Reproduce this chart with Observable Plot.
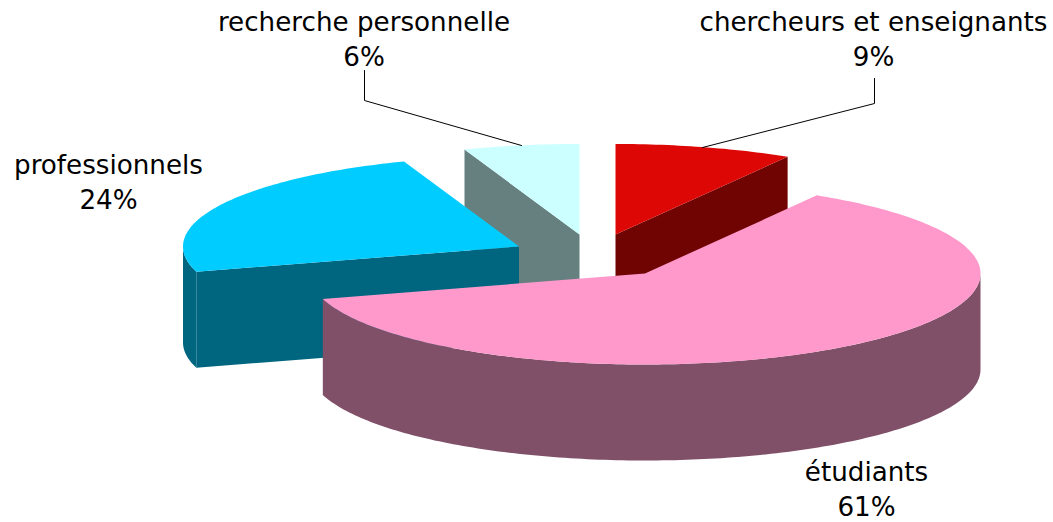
<!DOCTYPE html>
<html lang="fr">
<head>
<meta charset="utf-8">
<style>html,body{margin:0;padding:0;background:#fff}svg{display:block}</style>
<script src="https://cdn.jsdelivr.net/npm/d3@7"></script>
<script src="https://cdn.jsdelivr.net/npm/@observablehq/plot@0.6"></script>
</head>
<body>
<script>
// Data
const categories = ["chercheurs et enseignants", "étudiants", "professionnels", "recherche personnelle"];
const labelPercents = [9, 61, 24, 6];
// Shares as they appear on the tilted pie, in percent of the turn
const drawnShares = [8.56, 61.94, 23.94, 5.56];
const topColors = ["#DD0806", "#FF99CC", "#00CCFF", "#CCFFFF"];
const wallColors = ["#6F0403", "#805068", "#006680", "#668080"];
// Exploded slice centres
const centerX = [615, 644.5, 518.5, 579];
const centerY = [234, 273, 246, 234];
const radiusX = [336, 335.5, 336, 336];
const radiusY = [90.5, 91, 90.5, 90.5];
const depth = 96;
const drawOrder = [3, 0, 2, 1];
const labelX = [873, 866, 108, 363.5];
const labelY = [37, 486.5, 179.5, 37];
const leaders = [
  {id: "a", x: [874, 874, 702], y: [78, 103, 147]},
  {id: "b", x: [364, 364, 521], y: [70, 100, 145]}
];

// Build the faces from the shares
const starts = d3.cumsum([0, ...drawnShares]);
const faces = [];
drawOrder.forEach((i) => {
  const a0 = starts[i] * 3.6, a1 = starts[i + 1] * 3.6;
  const pt = (a, dz = 0) => [
    centerX[i] + radiusX[i] * Math.sin(a * Math.PI / 180),
    centerY[i] - radiusY[i] * Math.cos(a * Math.PI / 180) + dz
  ];
  const arc = (from, to, dz = 0) => {
    const n = Math.max(2, Math.ceil(Math.abs(to - from)));
    return d3.range(n + 1).map((k) => pt(from + (to - from) * k / n, dz));
  };
  const apex = [centerX[i], centerY[i]];
  const low = (p) => [p[0], p[1] + depth];
  const walls = [];
  // only the faces turned towards the viewer
  if (a0 > 180) walls.push([pt(a0), apex, low(apex), pt(a0, depth)]);
  if (a1 < 180) walls.push([pt(a1), apex, low(apex), pt(a1, depth)]);
  const f0 = Math.max(a0, 90), f1 = Math.min(a1, 270);
  if (f1 > f0) walls.push([...arc(f0, f1), ...arc(f1, f0, depth)]);
  walls.forEach((w) => faces.push({fill: wallColors[i], pts: w}));
  faces.push({fill: topColors[i], pts: [apex, ...arc(a0, a1)]});
});

const marks = faces.map((f) =>
  Plot.line(f.pts, {x: "0", y: "1", fill: f.fill, stroke: "none", curve: "linear-closed"})
);
leaders.forEach((l) =>
  marks.push(Plot.line(d3.range(l.x.length), {x: (k) => l.x[k], y: (k) => l.y[k], stroke: "#000", strokeWidth: 1}))
);
marks.push(Plot.text(categories.map((c, i) => `${c}\n${labelPercents[i]}%`), {
  x: (_, i) => labelX[i],
  y: (_, i) => labelY[i],
  text: (d) => d,
  fill: "#000",
  fontSize: 26.2,
  lineHeight: 1.33,
  fontFamily: "DejaVu Sans",
  textAnchor: "middle",
  lineAnchor: "middle"
}));

document.body.append(Plot.plot({
  width: 1053,
  height: 522,
  margin: 0,
  x: {domain: [0, 1053], range: [0, 1053], axis: null},
  y: {domain: [0, 522], range: [0, 522], axis: null},
  marks
}));
</script>
</body>
</html>
